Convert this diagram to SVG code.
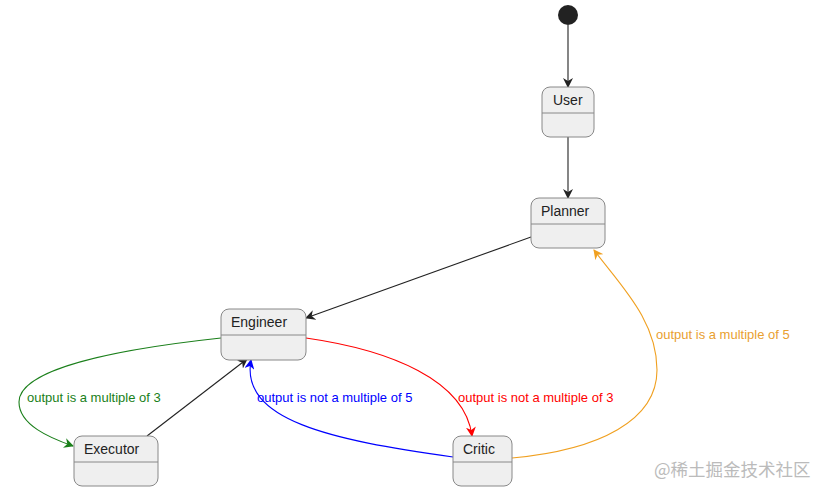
<svg xmlns="http://www.w3.org/2000/svg" width="816" height="492" viewBox="0 0 816 492">
<style>
.box{fill:#efefef;stroke:#888;stroke-width:1}
.div{stroke:#888;stroke-width:1}
.lbl{font-family:"Liberation Sans",Arial,sans-serif;font-size:14px;fill:#222}
.el{font-family:"Liberation Sans",Arial,sans-serif;font-size:13px}
.e{fill:none;stroke-width:1.1}
</style>
<defs>
<marker id="aK" viewBox="0 0 10 10" refX="9" refY="5" markerWidth="10" markerHeight="10" markerUnits="userSpaceOnUse" orient="auto"><path d="M0,0 L10,5 L0,10 L3,5 z" fill="#222"/></marker>
<marker id="aG" viewBox="0 0 10 10" refX="9" refY="5" markerWidth="10" markerHeight="10" markerUnits="userSpaceOnUse" orient="auto"><path d="M0,0 L10,5 L0,10 L3,5 z" fill="#1a7f1a"/></marker>
<marker id="aR" viewBox="0 0 10 10" refX="9" refY="5" markerWidth="10" markerHeight="10" markerUnits="userSpaceOnUse" orient="auto"><path d="M0,0 L10,5 L0,10 L3,5 z" fill="#ff0000"/></marker>
<marker id="aB" viewBox="0 0 10 10" refX="9" refY="5" markerWidth="10" markerHeight="10" markerUnits="userSpaceOnUse" orient="auto"><path d="M0,0 L10,5 L0,10 L3,5 z" fill="#0000ff"/></marker>
<marker id="aO" viewBox="0 0 10 10" refX="9" refY="5" markerWidth="10" markerHeight="10" markerUnits="userSpaceOnUse" orient="auto"><path d="M0,0 L10,5 L0,10 L3,5 z" fill="#f0a020"/></marker>
</defs>
<rect width="816" height="492" fill="#fff"/>
<g id="connectors">
<line class="e" x1="568" y1="25" x2="568" y2="87" stroke="#222" marker-end="url(#aK)"/>
<line class="e" x1="568" y1="137" x2="568" y2="198" stroke="#222" marker-end="url(#aK)"/>
<line class="e" x1="531" y1="237" x2="306" y2="318" stroke="#222" marker-end="url(#aK)"/>
<line class="e" x1="147" y1="436" x2="247" y2="359" stroke="#222" marker-end="url(#aK)"/>
<path class="e" d="M221,338 C110,350 19,370 19,402 C19,425 50,438 73,446" stroke="#1a7f1a" marker-end="url(#aG)"/>
<path class="e" d="M306,338 C390,350 465,380 472,436" stroke="#ff0000" marker-end="url(#aR)"/>
<path class="e" d="M453,457 C330,440 240,420 251,360" stroke="#0000ff" marker-end="url(#aB)"/>
<path class="e" d="M512,458 C600,450 657,420 657,370 C657,320 620,285 594,250" stroke="#f0a020" marker-end="url(#aO)"/>
<text class="el" x="27" y="402" fill="#1a7f1a">output is a multiple of 3</text>
<text class="el" x="257" y="402" fill="#0000ff">output is not a multiple of 5</text>
<text class="el" x="458" y="402" fill="#ff0000">output is not a multiple of 3</text>
<text class="el" x="656" y="339" fill="#e9a030">output is a multiple of 5</text>
</g>
<g id="start"><circle cx="568" cy="15" r="10" fill="#222"/></g>
<g id="user"><rect class="box" x="542" y="87" width="52" height="50" rx="8"/><line class="div" x1="542" y1="113" x2="594" y2="113"/><text class="lbl" x="553" y="105">User</text></g>
<g id="planner"><rect class="box" x="531" y="198" width="74" height="50" rx="8"/><line class="div" x1="531" y1="224" x2="605" y2="224"/><text class="lbl" x="541" y="216">Planner</text></g>
<g id="engineer"><rect class="box" x="221" y="309" width="85" height="51" rx="8"/><line class="div" x1="221" y1="335" x2="306" y2="335"/><text class="lbl" x="231" y="327">Engineer</text></g>
<g id="executor"><rect class="box" x="74" y="436" width="84" height="50" rx="8"/><line class="div" x1="74" y1="462" x2="158" y2="462"/><text class="lbl" x="84" y="454">Executor</text></g>
<g id="critic"><rect class="box" x="453" y="436" width="59" height="50" rx="8"/><line class="div" x1="453" y1="462" x2="512" y2="462"/><text class="lbl" x="463" y="454">Critic</text></g>
<text x="654" y="476" font-family="'Noto Sans CJK SC',sans-serif" font-size="17.5" fill="#bbb">@稀土掘金技术社区</text>
</svg>
